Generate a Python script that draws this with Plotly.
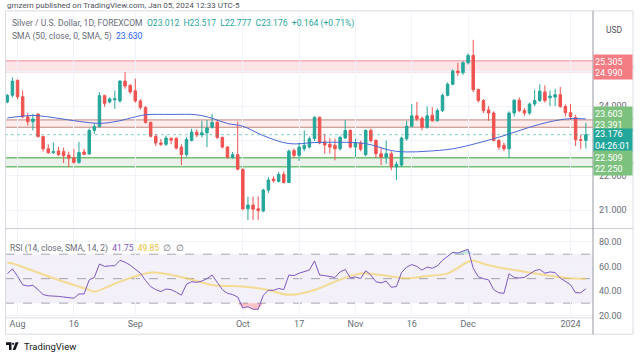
import plotly.graph_objects as go
import pandas as pd

# ---------------- data ----------------
holidays = ["2023-12-25", "2024-01-01"]
dates = [d.strftime("%Y-%m-%d") for d in pd.bdate_range("2023-07-28", "2024-01-05")
         if d.strftime("%Y-%m-%d") not in holidays]

open_ = [24.12, 24.31, 24.74, 24.27, 23.69, 23.55, 23.77, 23.12, 22.77, 22.66,
         22.71, 22.69, 22.59, 22.51, 22.38, 22.68, 22.62, 23.30, 23.41, 24.30,
         24.12, 24.18, 24.15, 24.72, 24.60, 24.44, 24.15, 23.96, 23.53, 23.13,
         22.94, 22.90, 23.07, 23.07, 22.82, 22.60, 23.01, 23.25, 23.17, 23.23,
         23.39, 23.53, 23.10, 22.82, 22.53, 22.60, 22.18, 21.04, 21.15, 21.04,
         20.98, 21.58, 21.90, 21.83, 22.03, 21.80, 22.72, 22.58, 22.77, 22.82,
         23.06, 23.68, 22.97, 22.90, 22.87, 22.77, 23.08, 23.30, 22.82, 22.94,
         22.60, 23.30, 23.01, 22.63, 22.53, 22.63, 22.25, 22.30, 23.06, 23.42,
         23.72, 23.65, 23.39, 23.74, 23.58, 23.87, 24.31, 24.63, 25.01, 24.96,
         25.25, 25.46, 24.48, 24.16, 23.89, 23.80, 23.01, 22.87, 22.77, 23.80,
         24.17, 23.87, 23.80, 24.06, 24.16, 24.41, 24.24, 24.26, 24.33, 23.99,
         23.81, 23.67, 23.03, 23.012]
high = [24.35, 24.83, 24.77, 24.45, 23.80, 23.78, 23.80, 23.15, 22.90, 22.95,
        22.83, 22.80, 22.69, 22.77, 22.97, 22.77, 23.35, 23.50, 24.40, 24.33,
        24.25, 24.45, 24.75, 24.98, 24.62, 24.79, 24.20, 24.00, 23.55, 23.20,
        23.05, 23.15, 23.10, 23.10, 22.90, 23.10, 23.35, 23.33, 23.58, 23.60,
        23.77, 23.60, 23.12, 22.85, 22.68, 23.55, 22.20, 21.39, 21.39, 21.40,
        21.62, 21.95, 21.98, 22.10, 22.12, 22.75, 22.78, 22.95, 23.30, 23.12,
        23.70, 23.70, 23.20, 23.08, 23.06, 23.15, 23.60, 23.33, 23.06, 23.00,
        23.33, 23.35, 23.05, 22.82, 23.01, 22.70, 22.40, 23.12, 23.58, 24.06,
        24.12, 23.70, 23.99, 23.97, 23.93, 24.36, 24.68, 25.06, 25.25, 25.30,
        25.52, 25.91, 24.50, 24.20, 24.00, 23.85, 23.05, 22.95, 23.85, 24.20,
        24.25, 23.95, 24.10, 24.47, 24.63, 24.60, 24.45, 24.50, 24.55, 24.05,
        24.06, 23.75, 23.18, 23.517]
low = [24.08, 24.25, 24.20, 23.65, 23.44, 23.30, 23.10, 22.69, 22.62, 22.62,
       22.57, 22.36, 22.24, 22.34, 22.34, 22.59, 22.60, 23.20, 23.38, 23.98,
       24.08, 23.92, 24.10, 24.50, 24.35, 24.10, 23.90, 23.50, 23.10, 22.85,
       22.85, 22.85, 22.90, 22.75, 22.30, 22.55, 22.98, 23.10, 23.10, 22.82,
       23.35, 23.05, 22.78, 22.48, 22.48, 22.15, 21.00, 20.72, 20.72, 20.72,
       20.94, 21.50, 21.80, 21.80, 21.77, 21.78, 22.50, 22.42, 22.70, 22.78,
       23.00, 22.90, 22.63, 22.63, 22.44, 22.72, 23.05, 22.78, 22.53, 22.70,
       22.55, 22.95, 22.50, 22.30, 22.34, 22.15, 21.87, 22.25, 23.00, 23.38,
       23.58, 23.30, 23.35, 23.55, 23.55, 23.83, 24.28, 24.60, 24.87, 24.90,
       25.20, 24.40, 24.10, 23.80, 23.58, 22.98, 22.75, 22.70, 22.50, 23.70,
       23.82, 23.72, 23.75, 24.00, 24.12, 24.10, 24.00, 24.00, 23.95, 23.70,
       23.60, 22.85, 22.77, 22.777]
close = [24.31, 24.72, 24.27, 23.69, 23.55, 23.63, 23.12, 22.77, 22.66, 22.69,
         22.60, 22.57, 22.50, 22.38, 22.66, 22.61, 23.30, 23.41, 24.30, 24.08,
         24.21, 24.21, 24.72, 24.58, 24.41, 24.15, 23.96, 23.53, 23.13, 22.94,
         22.90, 23.08, 23.02, 22.79, 22.60, 23.04, 23.25, 23.17, 23.23, 23.37,
         23.53, 23.10, 22.82, 22.53, 22.60, 22.18, 21.04, 21.15, 21.03, 20.99,
         21.58, 21.87, 21.85, 22.03, 21.80, 22.70, 22.58, 22.82, 22.87, 23.06,
         23.68, 22.94, 22.88, 22.82, 22.77, 23.10, 23.30, 22.82, 22.94, 22.76,
         23.30, 23.01, 22.63, 22.53, 22.63, 22.25, 22.32, 23.08, 23.42, 23.72,
         23.63, 23.39, 23.72, 23.58, 23.87, 24.31, 24.63, 25.01, 24.96, 25.25,
         25.46, 24.47, 24.16, 23.87, 23.80, 23.01, 22.82, 22.77, 23.80, 24.17,
         23.87, 23.80, 24.06, 24.16, 24.43, 24.16, 24.29, 24.33, 23.99, 23.81,
         23.70, 23.03, 23.012, 23.176]

sma_idx = [0, 5, 8, 13, 17, 19, 22, 25, 27, 32, 37, 40, 43, 46, 50, 55, 60, 65,
           70, 75, 78, 82, 87, 92, 97, 102, 106, 110, 113]
sma_val = [23.66, 23.73, 23.69, 23.58, 23.51, 23.51, 23.58, 23.69, 23.75, 23.76,
           23.75, 23.65, 23.50, 23.42, 23.15, 22.92, 22.95, 22.96, 22.92, 22.72,
           22.68, 22.70, 22.77, 22.94, 23.15, 23.39, 23.55, 23.64, 23.63]

rsi = [54, 58, 52, 45, 44, 44.5, 41, 37, 36, 36,
       35.5, 35, 34.5, 34, 37.5, 37.5, 49, 51, 62, 60,
       60.5, 60.5, 65, 63.5, 61, 57.5, 54.5, 48.5, 43.5, 41,
       39.5, 41.5, 41, 39, 36.5, 45.5, 47.5, 47, 48, 50,
       53, 47, 41, 38, 37, 35, 26, 27, 25, 25,
       36.5, 40.5, 40.5, 42, 41, 53, 52.5, 54.5, 55.5, 57,
       64.5, 53, 52.5, 52, 51, 55.5, 57.5, 50.5, 51.5, 50,
       56.5, 53, 47.5, 46.5, 48, 43, 43.5, 55, 59.5, 61.5,
       60, 57, 59.5, 58.5, 60.5, 65, 68.5, 71.5, 71, 72.5,
       74, 58.5, 51.5, 50, 49, 41, 38.5, 38, 54, 51,
       50.5, 51, 53.5, 56.5, 57.5, 54.5, 55.5, 55, 50.5, 48,
       45, 38.5, 38.5, 41.75]

rsi_ma_idx = [0, 1, 9, 16, 17, 22, 27, 29, 35, 40, 46, 51, 55, 60, 64, 69, 73,
              78, 82, 86, 90, 91, 94, 99, 105, 110, 113]
rsi_ma_val = [63, 62.4, 50.3, 40.8, 39.5, 47.6, 54.3, 55, 50.3, 44.9, 43.5, 40.8,
              36.8, 40.8, 47.6, 54.3, 53, 50.3, 52.2, 54.3, 63.8, 64.6, 61, 57,
              53, 50.3, 49.85]

tick_dates = ["2023-08-01", "2023-08-16", "2023-09-01", "2023-10-02", "2023-10-17",
              "2023-11-01", "2023-11-16", "2023-12-01", "2024-01-02"]
tick_labels = ["Aug", "16", "Sep", "Oct", "17", "Nov", "16", "Dec", "2024"]

price_ticks = [21, 22, 23, 24, 25]
price_tick_text = ["21.000", "22.000", "", "24.000", ""]   # 23/25 hidden behind labels
rsi_ticks = [20, 40, 60, 80]

resist_hi = [24.990, 25.305]
resist_mid = [23.391, 23.603]
support = [22.250, 22.509]
last_price = 23.176

# ---------------- geometry helpers (layout only) ----------------
W, H = 643, 361
L, R = 5, 593
def px(xp):
    return (xp - L) / (R - L)
def py(yp):
    return 1 - yp / H

FONT = "Roboto, Liberation Sans, sans-serif"
GRAY = "#6a6d78"

fig = go.Figure()

fig.add_trace(go.Candlestick(
    x=dates, open=open_, high=high, low=low, close=close,
    increasing=dict(line=dict(color="#26a69a", width=1), fillcolor="#26a69a"),
    decreasing=dict(line=dict(color="#ef5350", width=1), fillcolor="#ef5350"),
    whiskerwidth=0, xaxis="x", yaxis="y", showlegend=False, hoverinfo="skip"))

fig.add_trace(go.Scatter(
    x=[dates[i] for i in sma_idx], y=sma_val, mode="lines",
    line=dict(color="#4a67d8", width=1, shape="spline", smoothing=1.0),
    xaxis="x", yaxis="y", showlegend=False, hoverinfo="skip"))

# RSI pane
fig.add_trace(go.Scatter(x=dates, y=[30] * len(dates), mode="lines",
                         line=dict(width=0, color="rgba(0,0,0,0)"),
                         xaxis="x2", yaxis="y2", showlegend=False, hoverinfo="skip"))
fig.add_trace(go.Scatter(x=dates, y=[min(v, 30) for v in rsi], mode="lines",
                         line=dict(width=0, color="rgba(0,0,0,0)"), fill="tonexty",
                         fillcolor="rgba(242,54,69,0.30)",
                         xaxis="x2", yaxis="y2", showlegend=False, hoverinfo="skip"))
fig.add_trace(go.Scatter(x=dates, y=[70] * len(dates), mode="lines",
                         line=dict(width=0, color="rgba(0,0,0,0)"),
                         xaxis="x2", yaxis="y2", showlegend=False, hoverinfo="skip"))
fig.add_trace(go.Scatter(x=dates, y=[max(v, 70) for v in rsi], mode="lines",
                         line=dict(width=0, color="rgba(0,0,0,0)"), fill="tonexty",
                         fillcolor="rgba(38,166,154,0.25)",
                         xaxis="x2", yaxis="y2", showlegend=False, hoverinfo="skip"))
fig.add_trace(go.Scatter(
    x=[dates[i] for i in rsi_ma_idx], y=rsi_ma_val, mode="lines",
    line=dict(color="rgba(245,205,80,0.6)", width=2, shape="spline", smoothing=1.0),
    xaxis="x2", yaxis="y2", showlegend=False, hoverinfo="skip"))
fig.add_trace(go.Scatter(
    x=dates, y=rsi, mode="lines", line=dict(color="#7e57c2", width=1),
    xaxis="x2", yaxis="y2", showlegend=False, hoverinfo="skip"))

xr = [(L - 7.3) / 5.12, (R - 7.3) / 5.12]
common_x = dict(type="category", categoryorder="array", categoryarray=dates,
                range=xr, tickvals=tick_dates, showgrid=True, gridcolor="#f0f3fa",
                zeroline=False, fixedrange=True, domain=[0, 1])

shapes = []
def band(lo, hi, fill, line_color, lw):
    shapes.append(dict(type="rect", xref="paper", yref="y", x0=0, x1=1, y0=lo, y1=hi,
                       fillcolor=fill, line=dict(width=0), layer="below"))
    for v in (lo, hi):
        shapes.append(dict(type="line", xref="paper", yref="y", x0=0, x1=1, y0=v, y1=v,
                           line=dict(color=line_color, width=lw), layer="below"))
band(resist_hi[0], resist_hi[1], "rgba(242,54,69,0.13)", "rgba(230,110,115,0.75)", 1)
band(resist_mid[0], resist_mid[1], "rgba(242,54,69,0.10)", "rgba(175,110,95,0.8)", 1)
band(support[0], support[1], "rgba(110,160,110,0.14)", "#72c075", 1.5)
shapes.append(dict(type="line", xref="paper", yref="y", x0=0, x1=1, y0=last_price,
                   y1=last_price, line=dict(color="rgba(38,166,154,0.55)", width=1, dash="dot")))
shapes.append(dict(type="rect", xref="paper", yref="y2", x0=0, x1=1, y0=30, y1=70,
                   fillcolor="rgba(126,87,194,0.09)", line=dict(width=0), layer="below"))
for v in (70, 50, 30):
    shapes.append(dict(type="line", xref="paper", yref="y2", x0=0, x1=1, y0=v, y1=v,
                       line=dict(color="rgba(120,123,134,0.65)", width=1, dash="dash"),
                       layer="below"))
fr = "#d9dce3"
shapes += [
    dict(type="rect", xref="paper", yref="paper", x0=px(5.5), x1=px(633), y0=py(337),
         y1=py(11), line=dict(color=fr, width=1)),
    dict(type="line", xref="paper", yref="paper", x0=px(5), x1=px(633), y0=py(230.5),
         y1=py(230.5), line=dict(color="#c8cbd3", width=1)),
    dict(type="line", xref="paper", yref="paper", x0=px(5), x1=px(593), y0=py(320.5),
         y1=py(320.5), line=dict(color="#d9dce3", width=1)),
    dict(type="line", xref="paper", yref="paper", x0=1, x1=1, y0=py(337),
         y1=py(11), line=dict(color="#9598a1", width=1)),
]
logo = "#131722"
shapes += [
    dict(type="path", xref="paper", yref="paper", fillcolor=logo, line=dict(width=0),
         path=f"M {px(6)} {py(345)} L {px(11.5)} {py(345)} L {px(11.5)} {py(353)} "
              f"L {px(9)} {py(353)} L {px(9)} {py(347.8)} L {px(6)} {py(347.8)} Z"),
    dict(type="circle", xref="paper", yref="paper", fillcolor=logo, line=dict(width=0),
         x0=px(12), x1=px(14.2), y0=py(347.8), y1=py(345.6)),
    dict(type="path", xref="paper", yref="paper", fillcolor=logo, line=dict(width=0),
         path=f"M {px(15.6)} {py(345)} L {px(18.6)} {py(345)} L {px(15.4)} {py(353)} "
              f"L {px(12.6)} {py(353)} Z"),
]

ann = []
def text(xp, yp, t, size=8.5, color=GRAY, xanchor="left"):
    ann.append(dict(xref="paper", yref="paper", x=px(xp), y=py(yp), text=t,
                    showarrow=False, xanchor=xanchor, yanchor="middle",
                    font=dict(family=FONT, size=size, color=color)))

text(5, 6, "gmzern published on TradingView.com, Jan 05, 2024 12:33 UTC-5", 8, "#50535e")
text(10, 24, '<span style="color:#6a6d78">Silver / U.S. Dollar, 1D, FOREXCOM</span>  '
             '<span style="color:#26a69a">O23.012  H23.517  L22.777  C23.176  +0.164 (+0.71%)</span>',
     8.6)
text(10, 37, '<span style="color:#6a6d78">SMA (50, close, 0, SMA, 5)</span>  '
             '<span style="color:#2962ff">23.630</span>', 8.6)
text(604, 30, "USD", 8.5, "#50535e")
text(8, 251, '<span style="color:#6a6d78">RSI (14, close, SMA, 14, 2)</span>  '
             '<span style="color:#7e57c2">41.75</span>  '
             '<span style="color:#e8c23a">49.85</span>  '
             '<span style="color:#6a6d78">∅  ∅</span>', 8.5)
text(22, 349, "TradingView", 9.5, "#131722")

def plabel(val, txt, bg, yshift, h=11):
    ann.append(dict(xref="paper", yref="y", x=1, y=val, text=txt, showarrow=False,
                    xanchor="left", yanchor="middle", yshift=yshift, align="left",
                    width=36, height=h, bgcolor=bg, borderpad=1,
                    font=dict(family=FONT, size=9, color="white")))

plabel(resist_hi[1], "25.305", "#f47c83", -1)
plabel(resist_hi[0], "24.990", "#f47c83", -1)
plabel(resist_mid[1], "23.603", "#7cc27e", 6)
plabel(resist_mid[0], "23.391", "#7cc27e", 2.5)
plabel(last_price, "23.176<br>04:26:01", "#22a69a", -5.5, h=20)
plabel(support[1], "22.509", "#7cc27e", 0)
plabel(support[0], "22.250", "#7cc27e", -2)

main_dom = [py(229.5), py(12)]
rsi_dom = [py(320), py(231)]
p_lo = 24 - (229.5 - 107) / 35
p_hi = 24 + (107 - 12) / 35
r_scale = 74 / 60
r_lo = 20 - (320 - 318) / r_scale
r_hi = 80 + (244 - 231) / r_scale

fig.update_layout(
    width=W, height=H, margin=dict(l=L, r=W - R, t=0, b=0),
    paper_bgcolor="white", plot_bgcolor="white",
    font=dict(family=FONT, size=9, color=GRAY),
    xaxis=dict(anchor="y", showticklabels=False, ticks="",
               rangeslider=dict(visible=False), **common_x),
    xaxis2=dict(anchor="y2", matches="x", ticktext=tick_labels, ticks="",
                tickfont=dict(family=FONT, size=9, color=GRAY), **common_x),
    yaxis=dict(domain=main_dom, range=[p_lo, p_hi], side="right", anchor="x",
               tickvals=price_ticks, ticktext=price_tick_text,
               showgrid=True, gridcolor="#f0f3fa", zeroline=False, ticks="",
               ticklabelstandoff=5, tickfont=dict(family=FONT, size=9, color=GRAY),
               fixedrange=True),
    yaxis2=dict(domain=rsi_dom, range=[r_lo, r_hi], side="right", anchor="x2",
                tickvals=rsi_ticks, ticktext=[f"{v:.2f}" for v in rsi_ticks],
                showgrid=True, gridcolor="#f3f4f8", zeroline=False, ticks="",
                ticklabelstandoff=5, tickfont=dict(family=FONT, size=9, color=GRAY),
                fixedrange=True),
    shapes=shapes, annotations=ann, showlegend=False, hovermode=False,
)

fig.write_html("out.html", config={"displayModeBar": False, "staticPlot": True},
               post_script="document.body.style.margin='0';document.body.style.overflow='hidden';")
